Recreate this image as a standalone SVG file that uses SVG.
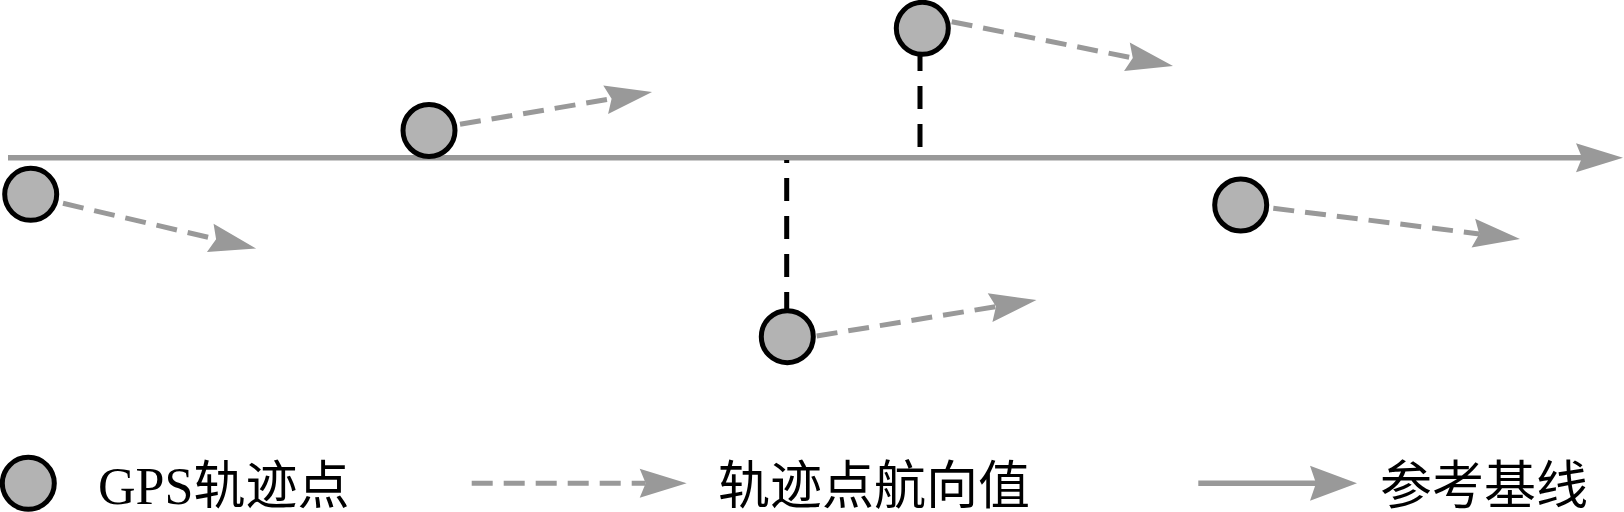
<svg xmlns="http://www.w3.org/2000/svg" width="1624" height="512" viewBox="0 0 1624 512">
  <style>
    .pt { fill: #b3b3b3; stroke: #000; stroke-width: 5; }
    .hd { fill: none; stroke: #999999; stroke-width: 5; stroke-dasharray: 21 11; }
    .base { fill: none; stroke: #999999; stroke-width: 5.5; }
    .proj { fill: none; stroke: #000; stroke-width: 5; stroke-dasharray: 23 15; }
    .lbl { font-family: "Liberation Serif", "Noto Sans CJK SC", serif; font-size: 52px; fill: #000; }
  </style>
  <defs>
    <marker id="ah" markerUnits="userSpaceOnUse" markerWidth="48" markerHeight="29" refX="6" refY="14.5" orient="auto" overflow="visible">
      <path d="M0,0 L47,14.5 L0,29 L6,14.5 Z" fill="#999999"/>
    </marker>
    <marker id="ahL" markerUnits="userSpaceOnUse" markerWidth="48" markerHeight="35" refX="6" refY="17.5" orient="auto" overflow="visible">
      <path d="M0,0 L47,17.5 L0,35 L6,17.5 Z" fill="#999999"/>
    </marker>
  </defs>

  <g id="connectors">
    <line id="baseline" class="base" x1="8" y1="157.7" x2="1582" y2="157.7" marker-end="url(#ah)"/>
    <line id="proj-top" class="proj" x1="920" y1="147" x2="920" y2="56"/>
    <line id="proj-bottom" class="proj" x1="786.7" y1="160" x2="786.7" y2="309" stroke-dashoffset="20"/>
    <line id="hd1" class="hd" x1="63" y1="203.3" x2="216.1" y2="239.15" marker-end="url(#ah)"/>
    <line id="hd2" class="hd" x1="460" y1="124.3" x2="611.6" y2="98.8" marker-end="url(#ah)"/>
    <line id="hd3" class="hd" x1="951.7" y1="21.7" x2="1132.8" y2="57.95" marker-end="url(#ah)"/>
    <line id="hd4" class="hd" x1="816.7" y1="336" x2="996" y2="306.6" marker-end="url(#ah)"/>
    <line id="hd5" class="hd" x1="1273.3" y1="208.3" x2="1479.3" y2="233.9" marker-end="url(#ah)"/>
  </g>

  <g id="p1"><circle class="pt" cx="30.7" cy="194.3" r="26"/></g>
  <g id="p2"><circle class="pt" cx="429" cy="130.5" r="26"/></g>
  <g id="p3"><circle class="pt" cx="922.3" cy="28.3" r="26"/></g>
  <g id="p4"><circle class="pt" cx="787.3" cy="336.7" r="26"/></g>
  <g id="p5"><circle class="pt" cx="1240.7" cy="205" r="26"/></g>

  <g id="legend">
    <g id="legend-point">
      <circle class="pt" cx="28.3" cy="483.3" r="26"/>
      <text class="lbl" x="98" y="504">GPS轨迹点</text>
    </g>
    <g id="legend-heading">
      <line class="hd" x1="471.7" y1="483.3" x2="645.7" y2="483.3" marker-end="url(#ah)"/>
      <text class="lbl" x="718" y="504">轨迹点航向值</text>
    </g>
    <g id="legend-baseline">
      <line class="base" x1="1198.3" y1="483.3" x2="1316" y2="483.3" marker-end="url(#ahL)"/>
      <text class="lbl" x="1380" y="504">参考基线</text>
    </g>
  </g>
</svg>
